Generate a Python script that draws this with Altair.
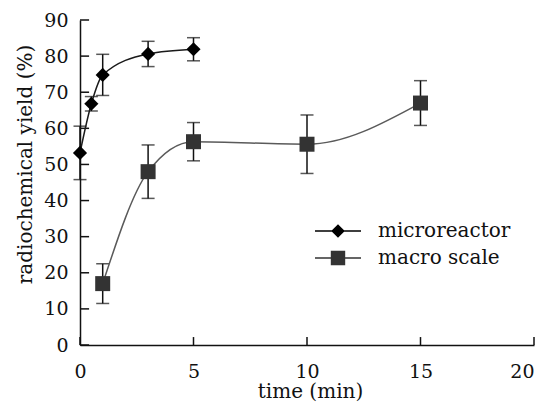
import altair as alt
import pandas as pd

# microreactor series
micro_t = [0, 0.5, 1, 3, 5]
micro_y = [53.2, 66.8, 74.8, 80.6, 81.9]
micro_err = [7.4, 2.0, 5.7, 3.5, 3.2]

# macro scale series
macro_t = [1, 3, 5, 10, 15]
macro_y = [17.0, 48.0, 56.3, 55.6, 67.0]
macro_err = [5.5, 7.4, 5.3, 8.1, 6.2]

series_names = ["microreactor", "macro scale"]
x_ticks = [0, 5, 10, 15, 20]
y_ticks = [0, 10, 20, 30, 40, 50, 60, 70, 80, 90]

rows = []
for t, v, e in zip(micro_t, micro_y, micro_err):
    rows.append({"kind": "data", "t": t, "y": v, "lo": v - e, "hi": v + e, "series": series_names[0]})
for t, v, e in zip(macro_t, macro_y, macro_err):
    rows.append({"kind": "data", "t": t, "y": v, "lo": v - e, "hi": v + e, "series": series_names[1]})
for t in x_ticks:
    rows.append({"kind": "xtick", "t": t, "y": 0, "lo": 0, "hi": 2.2})
for v in y_ticks:
    rows.append({"kind": "ytick", "t": 0, "y": v, "lo": 0, "hi": 0.4})
df = pd.DataFrame(rows)

FONT = "DejaVu Serif"
W, H = 454, 325

xaxis = alt.Axis(values=x_ticks, title="time (min)", grid=False, ticks=False,
                 labelPadding=17, labelFlush=False, labelOverlap=False,
                 labelAlign=alt.ExprRef(expr="datum.value >= 20 ? 'right' : 'center'"),
                 titleX=W / 2 + 3, titleY=46, titleBaseline="middle")
yaxis = alt.Axis(values=y_ticks, title="radiochemical yield (%)", grid=False, ticks=False,
                 labelPadding=12, labelOverlap=False, labelFlush=False,
                 titleX=-55, titleY=144, titleBaseline="middle", titleAlign="center",
                 titleAngle=270)
xscale = alt.Scale(domain=[0, 20], nice=False)
yscale = alt.Scale(domain=[0, 90], nice=False)

def X(f):
    return alt.X(f, scale=xscale, axis=xaxis)

def Y(f):
    return alt.Y(f, scale=yscale, axis=yaxis)

base = alt.Chart(df)
data = base.transform_filter(alt.datum.kind == "data")
micro = data.transform_filter(alt.datum.series == series_names[0])
macro = data.transform_filter(alt.datum.series == series_names[1])

err_rule = data.mark_rule(color="#111", strokeWidth=1.5).encode(
    x=X("t:Q"), y=Y("lo:Q"), y2="hi:Q")
cap_lo = data.mark_tick(color="#111", orient="horizontal", size=13, thickness=1.5).encode(
    x=X("t:Q"), y=Y("lo:Q"))
cap_hi = data.mark_tick(color="#111", orient="horizontal", size=13, thickness=1.5).encode(
    x=X("t:Q"), y=Y("hi:Q"))

line_micro = micro.mark_line(color="#1a1a1a", strokeWidth=1.5, interpolate="monotone").encode(
    x=X("t:Q"), y=Y("y:Q"))
line_macro = macro.mark_line(color="#5a5a5a", strokeWidth=1.5, interpolate="monotone").encode(
    x=X("t:Q"), y=Y("y:Q"))

pt_micro = micro.mark_point(shape="diamond", filled=True, color="#000", size=200, opacity=1,
                            clip=False).encode(x=X("t:Q"), y=Y("y:Q"))
pt_macro = macro.mark_point(shape="square", filled=True, color="#333", size=225,
                            opacity=1).encode(x=X("t:Q"), y=Y("y:Q"))

# inward axis ticks
xticks_layer = base.transform_filter(alt.datum.kind == "xtick").mark_rule(
    color="#111", strokeWidth=1.5).encode(x=X("t:Q"), y=Y("lo:Q"), y2="hi:Q")
yticks_layer = base.transform_filter(alt.datum.kind == "ytick").mark_rule(
    color="#111", strokeWidth=1.5).encode(y=Y("y:Q"), x=X("lo:Q"), x2="hi:Q")

diamond_path = "M-2.3,-0.075H2.3V0.075H-2.3Z M0,-0.68L0.68,0L0,0.68L-0.68,0Z"
square_path = "M-2.3,-0.075H2.3V0.075H-2.3Z M-0.72,-0.72H0.72V0.72H-0.72Z"

leg = alt.Legend(title=None, orient="none", legendX=248, legendY=201,
                 symbolOpacity=1, labelFontSize=20, labelFont=FONT,
                 labelColor="#111", labelOffset=30, rowPadding=7,
                 symbolSize=400, symbolStrokeWidth=0)

legend_layer = data.mark_point(filled=True, opacity=0, size=400).encode(
    x=X("t:Q"), y=Y("y:Q"),
    shape=alt.Shape("series:N", sort=series_names,
                    scale=alt.Scale(domain=series_names, range=[diamond_path, square_path]),
                    legend=leg),
    color=alt.Color("series:N", sort=series_names,
                    scale=alt.Scale(domain=series_names, range=["#000", "#333"]),
                    legend=leg),
)

chart = alt.layer(err_rule, cap_lo, cap_hi, xticks_layer, yticks_layer, line_micro, line_macro,
                  legend_layer, pt_micro, pt_macro).properties(
    width=W, height=H,
    autosize=alt.AutoSizeParams(type="none"),
    padding={"left": 72, "top": 12, "right": 7, "bottom": 57},
).configure_view(stroke=None).configure_axis(
    domainColor="#111", domainWidth=1.5,
    labelFont=FONT, labelFontSize=19, labelColor="#111",
    titleFont=FONT, titleFontSize=20, titleFontWeight="normal", titleColor="#111",
)

chart.save("out.html", embed_options={"renderer": "svg", "actions": False})
